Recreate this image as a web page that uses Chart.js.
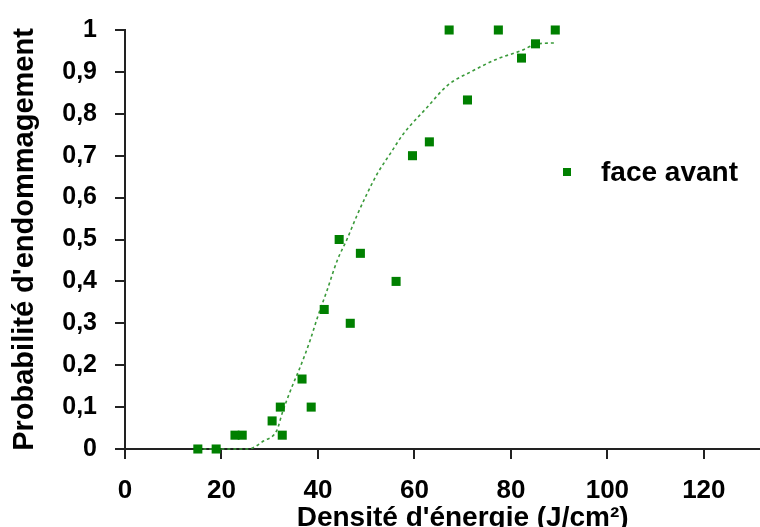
<!DOCTYPE html>
<html>
<head>
<meta charset="utf-8">
<script src="https://cdn.jsdelivr.net/npm/chart.js@4.4.1/dist/chart.umd.min.js"></script>
<style>
  html, body { margin: 0; padding: 0; background: #fff; overflow: hidden; }
  #wrap { width: 760px; height: 527px; overflow: hidden; position: relative; }
  #chart { position: absolute; left: 0; top: -3px; }
</style>
</head>
<body>
<div id="wrap"><canvas id="chart" width="838" height="539"></canvas></div>
<script>
// measured points (J/cm², probability)
const seriesName = "face avant";
const energy = [15.1, 18.9, 22.8, 24.3, 30.5, 32.2, 32.6, 36.7, 38.6, 41.3, 44.4,
                46.7, 48.8, 56.2, 59.6, 63.1, 67.2, 71.0, 77.4, 82.2, 85.1, 89.2];
const probability = [0, 0, 0.033, 0.033, 0.067, 0.1, 0.033, 0.167, 0.1, 0.333, 0.5,
                     0.3, 0.467, 0.4, 0.7, 0.733, 1, 0.833, 1, 0.933, 0.967, 1];

// dotted trend curve
const trendEnergy = [15, 20, 25.5, 28.7, 31.5, 32.6, 34.6, 36.3, 38.4, 39.9, 41.9, 44,
                     46, 48, 50, 52.3, 55, 57.7, 62.2, 67, 72, 77.2, 82, 85.5, 89];
const trendProb = [0, 0, 0, 0.019, 0.045, 0.086, 0.148, 0.195, 0.26, 0.314, 0.379, 0.45,
                   0.5, 0.555, 0.605, 0.657, 0.705, 0.752, 0.81, 0.869, 0.902, 0.931, 0.95, 0.967, 0.969];

const xTickLabels = ["0", "20", "40", "60", "80", "100", "120", "140"];
const yTickLabels = ["0", "0,1", "0,2", "0,3", "0,4", "0,5", "0,6", "0,7", "0,8", "0,9", "1"];

const green = "#008000";
const fontFamily = "'Liberation Sans', Arial, sans-serif";
const axisColor = "#222";

const legendBox = {
    id: "legendBox",
    afterDraw(chart) {
        const ctx = chart.ctx;
        const area = chart.chartArea;
        const x = area.left + 442;
        const y = area.top + 142;
        ctx.save();
        ctx.fillStyle = green;
        ctx.fillRect(x - 4, y - 4, 8, 8);
        ctx.fillStyle = "#000";
        ctx.font = "bold 28px " + fontFamily;
        ctx.textBaseline = "middle";
        ctx.fillText(chart.data.datasets[0].label, x + 34, y + 1);
        ctx.restore();
    },
};

const canvasHeight = 539;

new Chart("chart", {
    type: "scatter",
    data: {
        datasets: [
            {
                label: seriesName,
                data: energy.map((e, i) => ({ x: e, y: probability[i] })),
                pointStyle: "rect",
                pointRadius: 6.4,
                pointHoverRadius: 6.4,
                backgroundColor: green,
                borderColor: green,
                borderWidth: 0,
                clip: false,
                order: 1,
            },
            {
                label: "tendance",
                data: trendEnergy.map((e, i) => ({ x: e, y: trendProb[i] })),
                showLine: true,
                pointRadius: 0,
                borderColor: "#3a9a3a",
                borderWidth: 1.6,
                borderDash: [3, 3],
                cubicInterpolationMode: "monotone",
                clip: false,
                order: 2,
            },
        ],
    },
    options: {
        responsive: false,
        animation: false,
        devicePixelRatio: 1,
        layout: { padding: { top: 26, right: 0, left: 0, bottom: 0 } },
        plugins: {
            legend: { display: false },
            tooltip: { enabled: false },
        },
        scales: {
            x: {
                type: "linear",
                min: 0,
                max: 140,
                afterFit: (scale) => { scale.height = canvasHeight - 452; },
                ticks: {
                    stepSize: 20,
                    padding: 16,
                    color: "#000",
                    font: { family: fontFamily, size: 26, weight: "bold" },
                    callback: (v, i) => xTickLabels[i],
                },
                grid: { drawOnChartArea: false, drawTicks: true, tickLength: 10, color: axisColor, lineWidth: 2 },
                border: { display: true, color: axisColor, width: 2 },
                title: {
                    display: true,
                    text: "Densité d'énergie (J/cm²)",
                    color: "#000",
                    font: { family: fontFamily, size: 28, weight: "bold" },
                    padding: { top: 0, bottom: 1 },
                },
            },
            y: {
                min: 0,
                max: 1,
                afterFit: (scale) => { scale.width = 125; },
                ticks: {
                    stepSize: 0.1,
                    padding: 18,
                    color: "#000",
                    font: { family: fontFamily, size: 25, weight: "bold" },
                    callback: (v, i) => yTickLabels[i],
                },
                grid: { drawOnChartArea: false, drawTicks: true, tickLength: 10, color: axisColor, lineWidth: 2 },
                border: { display: true, color: axisColor, width: 2 },
                title: {
                    display: true,
                    text: "Probabilité d'endommagement",
                    color: "#000",
                    font: { family: fontFamily, size: 29, weight: "bold" },
                    padding: { top: 8, bottom: 0 },
                },
            },
        },
    },
    plugins: [legendBox],
});
</script>
</body>
</html>
